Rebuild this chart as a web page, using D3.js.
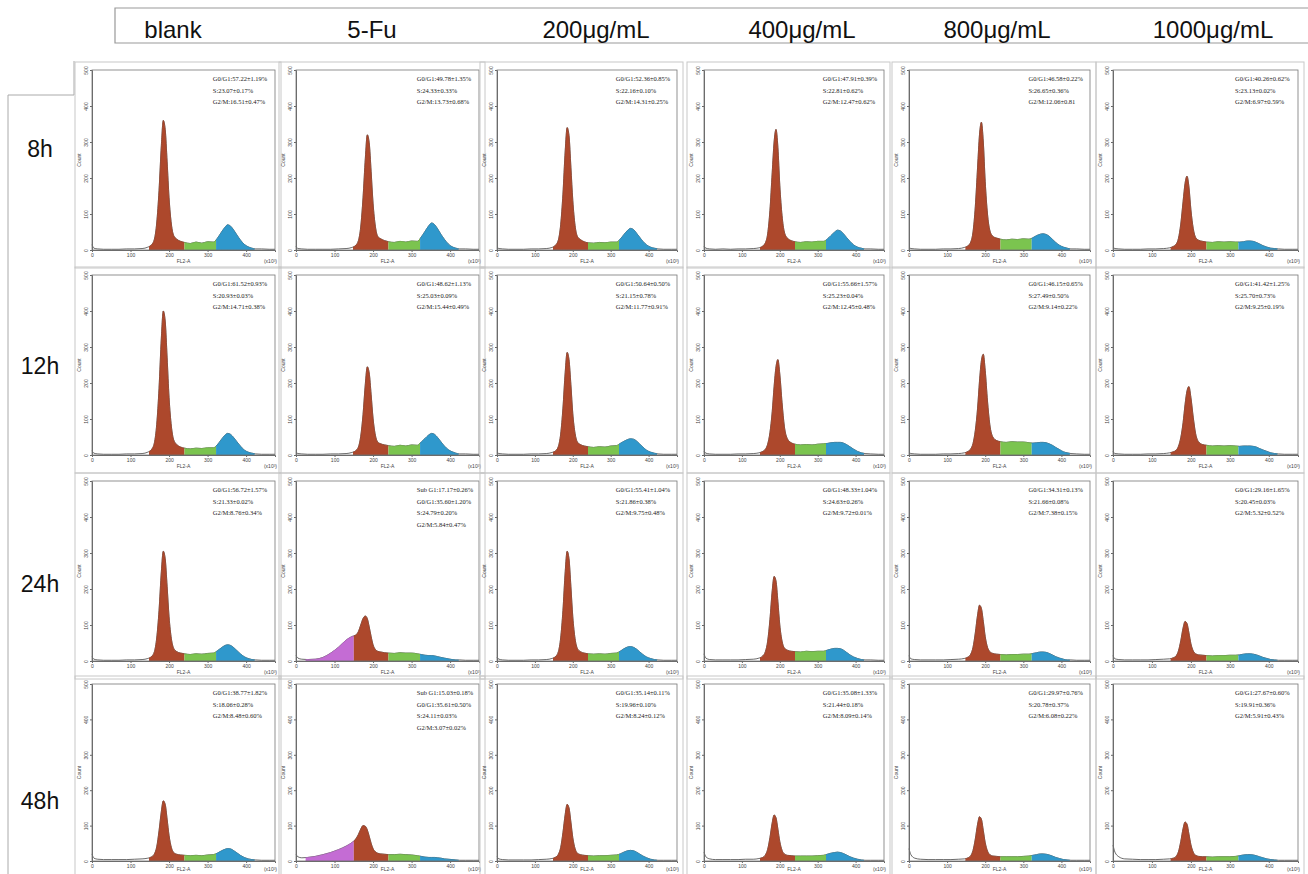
<!DOCTYPE html>
<html>
<head>
<meta charset="utf-8">
<script src="https://cdn.jsdelivr.net/npm/d3@7"></script>
<style>
  body { margin: 0; background: #fff; }
  text { font-family: "Liberation Sans", Arial, sans-serif; }
</style>
</head>
<body>
<script>
// headers
const doseLabels = ["blank", "5-Fu", "200μg/mL", "400μg/mL", "800μg/mL", "1000μg/mL"];
const timeLabels = ["8h", "12h", "24h", "48h"];

// FL2-A bin positions (x10^3), shared by every histogram
const fl2Bins = [0, 5, 15, 30, 50, 70, 90, 110, 130, 145, 155, 162, 168, 174, 180, 185, 190, 195, 200, 206, 212, 220, 230, 240,
                 255, 270, 285, 300, 315, 325, 335, 345, 352, 360, 368, 376, 385, 395, 405, 415, 425, 440, 460, 475];
const xTicks = [0, 100, 200, 300, 400];
const yTicks = [0, 100, 200, 300, 400, 500];

// gates on FL2-A
const gateSubG1 = [25, 150];
const gateG1 = [148, 240];
const gateS = [240, 322];
const gateG2 = [322, 422];

// counts per bin; one list per dose (blank, 5-Fu, 200, 400, 800, 1000)
const counts8h = [
  [15,5,3,2,2,2,3,3,4,8,15,30,75,165,290,360,335,245,145,72,40,30,24,21,18,22,19,23,22,32,48,63,70,66,55,42,28,16,9,5,3,3,2,2],
  [10,4,3,2,2,2,2,3,4,7,13,26,64,145,255,320,298,218,130,66,38,31,26,23,21,24,22,25,24,36,52,68,75,70,58,44,30,17,9,5,3,3,2,2],
  [8,4,3,2,2,2,3,3,4,7,14,28,70,155,275,340,318,230,138,68,38,29,23,20,19,21,20,22,22,30,43,55,60,57,47,36,24,14,8,5,3,2,2,2],
  [10,5,3,2,3,2,3,3,4,6,11,20,45,110,215,300,335,285,180,95,50,33,26,23,21,23,22,24,24,30,40,50,55,53,45,35,24,14,8,5,3,3,2,2],
  [8,4,3,2,2,2,3,3,4,7,12,22,50,120,230,320,355,300,190,100,55,38,33,30,28,30,29,31,30,34,40,44,45,43,38,30,21,13,8,5,3,3,2,2],
  [8,4,3,2,2,2,3,3,4,6,10,16,32,72,135,185,205,175,112,60,35,27,24,22,21,23,22,23,22,22,23,25,25,24,21,17,12,8,5,4,3,2,2,2]
];
const counts12h = [
  [12,5,3,2,2,2,3,3,4,8,16,34,85,185,325,400,372,270,160,80,42,29,22,19,17,19,18,20,20,28,42,55,60,57,48,37,25,14,8,5,3,2,2,2],
  [8,4,3,2,2,2,3,3,4,7,12,22,52,112,198,245,228,168,102,55,36,31,28,26,24,27,25,28,27,36,46,56,60,57,48,37,25,15,9,5,3,3,2,2],
  [8,4,3,2,2,2,3,3,4,7,12,24,58,130,230,285,265,195,115,60,36,29,25,23,21,23,22,25,26,32,38,43,45,44,39,31,22,13,8,5,3,2,2,2],
  [10,5,3,2,2,2,3,3,4,6,10,16,30,62,120,190,245,265,225,145,80,45,34,30,28,29,28,30,31,32,34,35,35,35,33,29,23,16,10,6,4,3,2,2],
  [8,4,3,2,2,2,3,3,4,6,10,17,32,68,130,205,262,280,235,150,85,50,40,37,35,37,36,36,34,33,34,35,35,34,31,27,21,15,9,6,4,3,2,2],
  [10,4,3,2,2,2,3,3,4,6,9,13,24,48,90,140,178,190,160,105,60,36,29,27,25,26,25,26,25,24,25,25,25,24,22,18,14,10,6,4,3,2,2,2]
];
const counts24h = [
  [12,5,3,2,2,2,3,3,4,7,13,26,64,140,248,305,284,207,123,62,35,26,22,20,18,20,19,21,22,28,36,43,45,43,37,29,20,12,7,4,3,2,2,2],
  [15,8,5,4,5,10,22,38,58,68,72,82,100,118,125,118,95,68,45,32,27,25,23,22,21,23,22,22,20,18,16,15,15,14,12,10,8,6,4,3,3,2,2,2],
  [10,5,3,2,2,2,3,3,4,7,13,26,64,140,248,305,284,207,123,62,35,26,22,20,19,20,19,21,22,27,34,39,40,38,33,26,18,11,7,4,3,2,2,2],
  [20,8,4,3,3,3,3,4,5,8,14,26,55,115,195,235,222,165,100,55,36,30,27,26,25,27,26,27,27,30,33,35,35,34,30,24,17,11,7,4,3,3,2,2],
  [15,6,4,3,3,3,3,4,5,7,11,19,38,78,128,155,146,110,68,38,26,21,19,18,17,18,18,19,19,21,23,25,25,24,21,17,12,8,5,3,3,2,2,2],
  [15,6,4,3,3,3,3,4,5,6,9,14,28,56,92,110,104,78,48,28,20,17,16,15,14,15,15,16,16,17,19,20,20,19,17,14,10,7,4,3,2,2,2,2]
];
const counts48h = [
  [20,8,5,4,4,4,4,5,6,8,12,20,40,85,140,170,160,118,72,38,24,19,17,16,15,16,15,17,18,22,28,33,35,34,29,23,16,10,6,4,3,2,2,2],
  [18,12,9,10,13,18,24,32,42,52,62,75,90,100,98,88,70,50,35,26,22,20,19,18,18,19,18,17,15,13,11,10,10,10,9,8,6,5,4,3,2,2,2,2],
  [12,6,4,3,3,3,3,4,5,7,11,19,38,80,132,160,150,110,66,35,22,18,16,15,14,15,15,16,17,20,25,29,30,29,25,20,14,9,5,3,2,2,2,2],
  [25,12,6,4,4,4,4,5,5,7,10,17,33,66,108,130,122,90,55,30,20,16,15,14,14,14,14,15,16,19,22,24,25,24,21,17,12,8,5,3,2,2,2,2],
  [35,18,8,5,4,4,4,4,5,6,9,15,30,62,104,125,118,86,52,28,18,14,13,12,12,12,12,13,14,16,18,20,20,19,17,14,10,7,4,3,2,2,2,2],
  [45,25,12,6,5,4,4,4,5,6,8,13,26,55,92,110,104,76,46,25,16,13,12,12,11,12,12,12,13,15,17,18,18,17,15,12,9,6,4,3,2,2,2,2]
];

// cell cycle percentages printed in each panel
const stats8h = [
  ["G0/G1:57.22±1.19%", "S:23.07±0.17%", "G2/M:16.51±0.47%"],
  ["G0/G1:49.78±1.35%", "S:24.33±0.33%", "G2/M:13.73±0.68%"],
  ["G0/G1:52.36±0.85%", "S:22.16±0.10%", "G2/M:14.31±0.25%"],
  ["G0/G1:47.91±0.39%", "S:22.81±0.62%", "G2/M:12.47±0.62%"],
  ["G0/G1:46.58±0.22%", "S:26.65±0.36%", "G2/M:12.06±0.81"],
  ["G0/G1:40.26±0.62%", "S:23.13±0.02%", "G2/M:6.97±0.59%"]
];
const stats12h = [
  ["G0/G1:61.52±0.93%", "S:20.93±0.03%", "G2/M:14.71±0.38%"],
  ["G0/G1:48.62±1.13%", "S:25.03±0.09%", "G2/M:15.44±0.49%"],
  ["G0/G1:50.64±0.50%", "S:21.15±0.78%", "G2/M:11.77±0.91%"],
  ["G0/G1:55.66±1.57%", "S:25.23±0.04%", "G2/M:12.45±0.48%"],
  ["G0/G1:46.15±0.65%", "S:27.49±0.50%", "G2/M:9.14±0.22%"],
  ["G0/G1:41.42±1.25%", "S:25.70±0.73%", "G2/M:9.25±0.19%"]
];
const stats24h = [
  ["G0/G1:56.72±1.57%", "S:21.33±0.02%", "G2/M:8.76±0.34%"],
  ["Sub G1:17.17±0.26%", "G0/G1:35.60±1.20%", "S:24.79±0.20%", "G2/M:5.84±0.47%"],
  ["G0/G1:55.41±1.04%", "S:21.86±0.38%", "G2/M:9.75±0.48%"],
  ["G0/G1:48.33±1.04%", "S:24.63±0.26%", "G2/M:9.72±0.01%"],
  ["G0/G1:34.31±0.13%", "S:21.66±0.08%", "G2/M:7.38±0.15%"],
  ["G0/G1:29.16±1.65%", "S:20.45±0.03%", "G2/M:5.32±0.52%"]
];
const stats48h = [
  ["G0/G1:38.77±1.82%", "S:18.06±0.28%", "G2/M:8.48±0.60%"],
  ["Sub G1:15.03±0.18%", "G0/G1:35.61±0.50%", "S:24.11±0.03%", "G2/M:3.07±0.02%"],
  ["G0/G1:35.14±0.11%", "S:19.96±0.10%", "G2/M:8.24±0.12%"],
  ["G0/G1:35.08±1.33%", "S:21.44±0.18%", "G2/M:8.09±0.14%"],
  ["G0/G1:29.97±0.76%", "S:20.78±0.37%", "G2/M:6.08±0.22%"],
  ["G0/G1:27.67±0.60%", "S:19.91±0.36%", "G2/M:5.91±0.43%"]
];

let svg = null;
const colLeft = [92, 296, 497, 704, 909, 1113];
const colWidth = [183, 183, 180, 180, 181, 185];
const rowTop = [70, 275, 481, 684];
const rowHeight = [180, 180, 180, 177];

const colors = { sub: "#c46cd4", g1: "#ad482c", s: "#7bc44f", g2: "#2f98cc" };

appendSvg("body");
drawHeader();
drawRowLabels();

const allCounts = [counts8h, counts12h, counts24h, counts48h];
const allStats = [stats8h, stats12h, stats24h, stats48h];
allCounts.forEach((row, r) => row.forEach((counts, c) => drawPanel(r, c, counts, allStats[r][c])));

function appendSvg(domElement) {
  svg = d3.select(domElement).append("svg")
    .attr("width", 1308)
    .attr("height", 874);
  svg.append("rect").attr("width", 1308).attr("height", 874).attr("fill", "#fff");
}

function drawHeader() {
  svg.append("path")
    .attr("d", "M1308,8 H115 V43 H1308")
    .attr("fill", "none").attr("stroke", "#999").attr("stroke-width", 1.2);
  const centers = [173, 372, 596, 802, 997, 1213];
  svg.selectAll(".dose").data(doseLabels).enter().append("text")
    .attr("class", "dose")
    .attr("x", (d, i) => centers[i])
    .attr("y", 38)
    .attr("text-anchor", "middle")
    .style("font-size", "24px")
    .style("fill", "#111")
    .text(d => d);
}

function drawRowLabels() {
  // bracket on the left
  svg.append("path")
    .attr("d", "M8,874 V95 H74 V61")
    .attr("fill", "none").attr("stroke", "#aaa").attr("stroke-width", 1);
  const ys = [157, 374, 592, 809];
  svg.selectAll(".time").data(timeLabels).enter().append("text")
    .attr("class", "time")
    .attr("x", 40)
    .attr("y", (d, i) => ys[i])
    .attr("text-anchor", "middle")
    .style("font-size", "23px")
    .style("fill", "#111")
    .text(d => d);
}

function drawPanel(r, c, counts, stats) {
  const left = colLeft[c], top = rowTop[r], w = colWidth[c], h = rowHeight[r];
  const labelOffset = r === 3 ? 10 : 13;

  // frame of the pasted screenshot
  svg.append("rect")
    .attr("x", left - 17).attr("y", top - 8)
    .attr("width", w + 23).attr("height", h + 26)
    .attr("fill", "none").attr("stroke", "#c8c8c8").attr("stroke-width", 1);

  const g = svg.append("g").attr("transform", `translate(${left},${top})`);
  const x = d3.scaleLinear().domain([0, 475]).range([0, w]);
  const y = d3.scaleLinear().domain([0, 500]).range([h, 0]);

  const pts = fl2Bins.map((b, i) => ({ x: b, y: counts[i] }));
  const area = d3.area().x(d => x(d.x)).y0(h).y1(d => y(d.y)).curve(d3.curveMonotoneX);
  const line = d3.line().x(d => x(d.x)).y(d => y(d.y)).curve(d3.curveMonotoneX);

  // whole histogram as a thin dark trace
  g.append("path").datum(pts).attr("d", line)
    .attr("fill", "none").attr("stroke", "#444").attr("stroke-width", 0.8);

  const hasSub = stats.length === 4;
  const gates = hasSub
    ? [[gateSubG1, colors.sub], [[gateSubG1[1], gateG1[1]], colors.g1], [gateS, colors.s], [gateG2, colors.g2]]
    : [[gateG1, colors.g1], [gateS, colors.s], [gateG2, colors.g2]];

  gates.forEach(([rng, col], k) => {
    const id = `clip-${r}-${c}-${k}`;
    g.append("clipPath").attr("id", id).append("rect")
      .attr("x", x(rng[0])).attr("y", -2)
      .attr("width", x(rng[1]) - x(rng[0])).attr("height", h + 2);
    g.append("path").datum(pts).attr("d", area)
      .attr("fill", col)
      .attr("stroke", d3.color(col).darker(0.3))
      .attr("stroke-width", 0.6)
      .attr("clip-path", `url(#${id})`);
  });

  // axes
  const xa = g.append("g").attr("transform", `translate(0,${h})`)
    .call(d3.axisBottom(x).tickValues(xTicks).tickSize(2).tickPadding(1));
  const ya = g.append("g")
    .call(d3.axisLeft(y).tickValues(yTicks).tickSize(2).tickPadding(1));
  [xa, ya].forEach(a => {
    a.select(".domain").attr("stroke", "#666");
    a.selectAll("line").attr("stroke", "#666");
    a.selectAll("text").style("font-size", "5px").style("fill", "#444");
  });
  ya.selectAll("text")
    .attr("transform", "rotate(-90)")
    .attr("x", 0).attr("y", -4).attr("dy", 0)
    .attr("text-anchor", "middle");

  g.append("rect").attr("width", w).attr("height", h)
    .attr("fill", "none").attr("stroke", "#777").attr("stroke-width", 0.8);

  g.append("text")
    .attr("transform", `translate(-11,${h / 2}) rotate(-90)`)
    .attr("text-anchor", "middle")
    .style("font-size", "5px").style("fill", "#444")
    .text("Count");
  g.append("text")
    .attr("x", w / 2).attr("y", h + labelOffset)
    .attr("text-anchor", "middle")
    .style("font-size", "5px").style("fill", "#444")
    .text("FL2-A");
  g.append("text")
    .attr("x", w + 2).attr("y", h + labelOffset)
    .attr("text-anchor", "end")
    .style("font-size", "5px").style("fill", "#444")
    .text("(x10³)");

  // percentages
  g.selectAll(".stat").data(stats).enter().append("text")
    .attr("class", "stat")
    .attr("x", w * 0.66)
    .attr("y", (d, i) => 11 + i * 11.5)
    .style("font-family", "'Liberation Serif', 'Times New Roman', serif")
    .style("font-size", "6.5px")
    .style("fill", "#222")
    .text(d => d);
}
</script>
</body>
</html>
